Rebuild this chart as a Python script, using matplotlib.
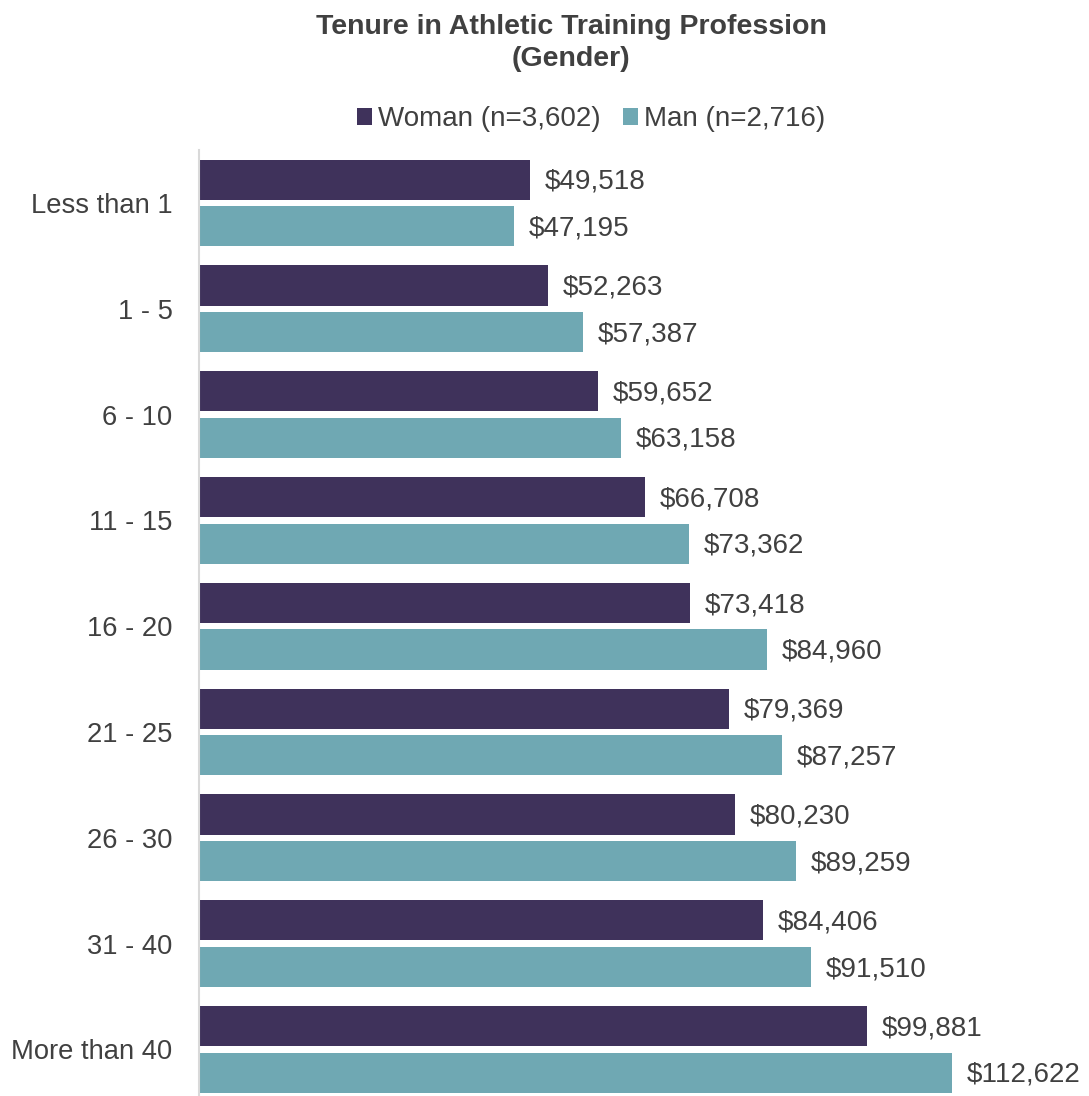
import numpy as np
import matplotlib.pyplot as plt

# Data
categories = ['Less than 1', '1 - 5', '6 - 10', '11 - 15', '16 - 20',
              '21 - 25', '26 - 30', '31 - 40', 'More than 40']
woman = [49518, 52263, 59652, 66708, 73418, 79369, 80230, 84406, 99881]
man = [47195, 57387, 63158, 73362, 84960, 87257, 89259, 91510, 112622]
series_labels = ['Woman (n=3,602)', 'Man (n=2,716)']

plt.rcParams['font.family'] = ['Liberation Sans', 'DejaVu Sans']
text_color = '#404040'
c_woman = '#3F325B'
c_man = '#6FA8B3'

fig = plt.figure(figsize=(10.89, 10.96), dpi=100)
W, H = 1089, 1096
ax = fig.add_axes([199 / W, 0, 802 / W, 946 / H])

y = np.arange(len(categories))
h = 0.38
ax.barh(y - 0.22, woman, height=h, color=c_woman, label=series_labels[0])
ax.barh(y + 0.22, man, height=h, color=c_man, label=series_labels[1])

for yi, v in zip(y - 0.22, woman):
    ax.text(v + 2200, yi + 0.02, f'${v:,}', va='center', ha='left', fontsize=20, color=text_color)
for yi, v in zip(y + 0.22, man):
    ax.text(v + 2200, yi + 0.02, f'${v:,}', va='center', ha='left', fontsize=20, color=text_color)

ax.set_xlim(0, 120000)
ax.set_ylim(8.44, -0.5)
ax.set_yticks(y)
ax.set_yticklabels(categories, fontsize=19.7, color=text_color)
ax.tick_params(axis='y', length=0, pad=19)
ax.set_xticks([])
for s in ['top', 'right', 'bottom']:
    ax.spines[s].set_visible(False)
ax.spines['left'].set_color('#D9D9D9')
ax.spines['left'].set_linewidth(1.5)

fig.text(571 / W, 1 - 43 / H, 'Tenure in Athletic Training Profession\n(Gender)',
         ha='center', va='center', fontsize=20.5, fontweight='bold', color=text_color,
         linespacing=1.35)

fig.legend(loc='center', bbox_to_anchor=(591 / W, 1 - 119 / H), ncol=2, frameon=False,
           fontsize=20, handlelength=0.55, handleheight=0.55, handletextpad=0.2,
           columnspacing=0.8, labelcolor=text_color)

fig.savefig('out.png', dpi=100)
